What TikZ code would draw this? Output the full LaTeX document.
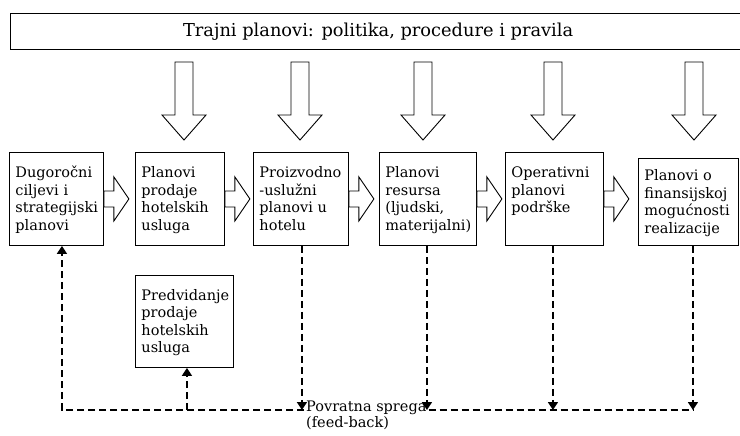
\documentclass[tikz,border=0pt]{standalone}
\usepackage{fontspec}
\setmainfont{DejaVu Serif}
\usetikzlibrary{arrows.meta}

\tikzset{
  planbox/.style={draw, line width=0.9pt, anchor=north west, align=left,
    inner xsep=6pt, inner ysep=13.5pt, text height=12pt, text depth=54pt,
    font=\fontsize{14.5}{17.5}\selectfont},
  feedback/.style={line width=1.5pt, dash pattern=on 7pt off 4pt},
  blockarrow/.style={draw, line width=0.9pt, fill=white},
  downarrow/.pic={\draw[blockarrow] (-9,0) -- (9,0) -- (9,53) -- (22,53) -- (0,78) -- (-22,53) -- (-9,53) -- cycle;},
  sidearrow/.pic={\draw[blockarrow] (0,-8) -- (10,-8) -- (10,-22) -- (25,0) -- (10,22) -- (10,8) -- (0,8) -- cycle;},
}

\begin{document}
\begin{tikzpicture}[x=1pt, y=-1pt, >={Triangle[length=8pt,width=10pt]}]
  \useasboundingbox (0,0) rectangle (740,436);

  % ===================== top bar =====================
  \node[draw, line width=1.2pt, anchor=north west, minimum width=735pt, minimum height=36pt,
    font=\fontsize{17.8}{20}\selectfont] (policy) at (10,13) {Trajni planovi: politika, procedure i pravila};

  % big arrows down from the bar
  \pic at (184,62) {downarrow};
  \pic at (300,62) {downarrow};
  \pic at (423,62) {downarrow};
  \pic at (553,62) {downarrow};
  \pic at (694,62) {downarrow};

  % ===================== plan boxes =====================
  \node[planbox, text width=82pt] (b1) at (9,152) {Dugoročni\\ciljevi i\\strategijski\\planovi};
  \node[planbox, text width=77pt] (b2) at (135,152) {Planovi\\prodaje\\hotelskih\\usluga};
  \node[planbox, text width=83pt] (b3) at (253,152) {Proizvodno\\-uslužni\\planovi u\\hotelu};
  \node[planbox, text width=85pt] (b4) at (379,152) {Planovi\\resursa\\(ljudski,\\materijalni)};
  \node[planbox, text width=86pt] (b5) at (505,152) {Operativni\\planovi\\podrške};
  \node[planbox, text width=88pt, inner ysep=10.5pt] (b6) at (638,158) {Planovi o\\finansijskoj\\mogućnosti\\realizacije};
  \node[planbox, text width=86pt, inner ysep=13pt] (pred) at (135,275) {Predvidanje\\prodaje\\hotelskih\\usluga};

  % arrows between the boxes
  \pic at (b1.east) {sidearrow};
  \pic at (b2.east) {sidearrow};
  \pic at (b3.east) {sidearrow};
  \pic at (b4.east) {sidearrow};
  \pic at (b5.east) {sidearrow};

  % ===================== feed-back =====================
  \coordinate (fbl) at (0,410);
  \coordinate (in1) at ([xshift=5.5pt]b1.south);
  \coordinate (inp) at ([xshift=2.5pt]pred.south);
  \coordinate (out3) at ([xshift=1pt]b3.south);
  \coordinate (out4) at ([xshift=-1pt]b4.south);
  \coordinate (out5) at ([xshift=-1.5pt]b5.south);
  \coordinate (out6) at ([xshift=4.5pt]b6.south);
  \node[anchor=north west, align=left, inner sep=2pt, font=\fontsize{14.5}{15.5}\selectfont] (fbtext) at (304,399)
    {Povratna sprega\\(feed-back)};

  \draw[feedback,->] (fbtext.west |- fbl) -| (in1);
  \draw[feedback,->] (inp |- fbl) -- (inp);
  \draw[feedback,->] (out3) -- (out3 |- fbl);
  \draw[feedback,->] (out4) -- (out4 |- fbl);
  \draw[feedback,->] (out5) -- (out5 |- fbl);
  \draw[feedback,->] (out6) -- (out6 |- fbl);
  \draw[feedback] (fbtext.east |- fbl) -- (out6 |- fbl);
\end{tikzpicture}
\end{document}
